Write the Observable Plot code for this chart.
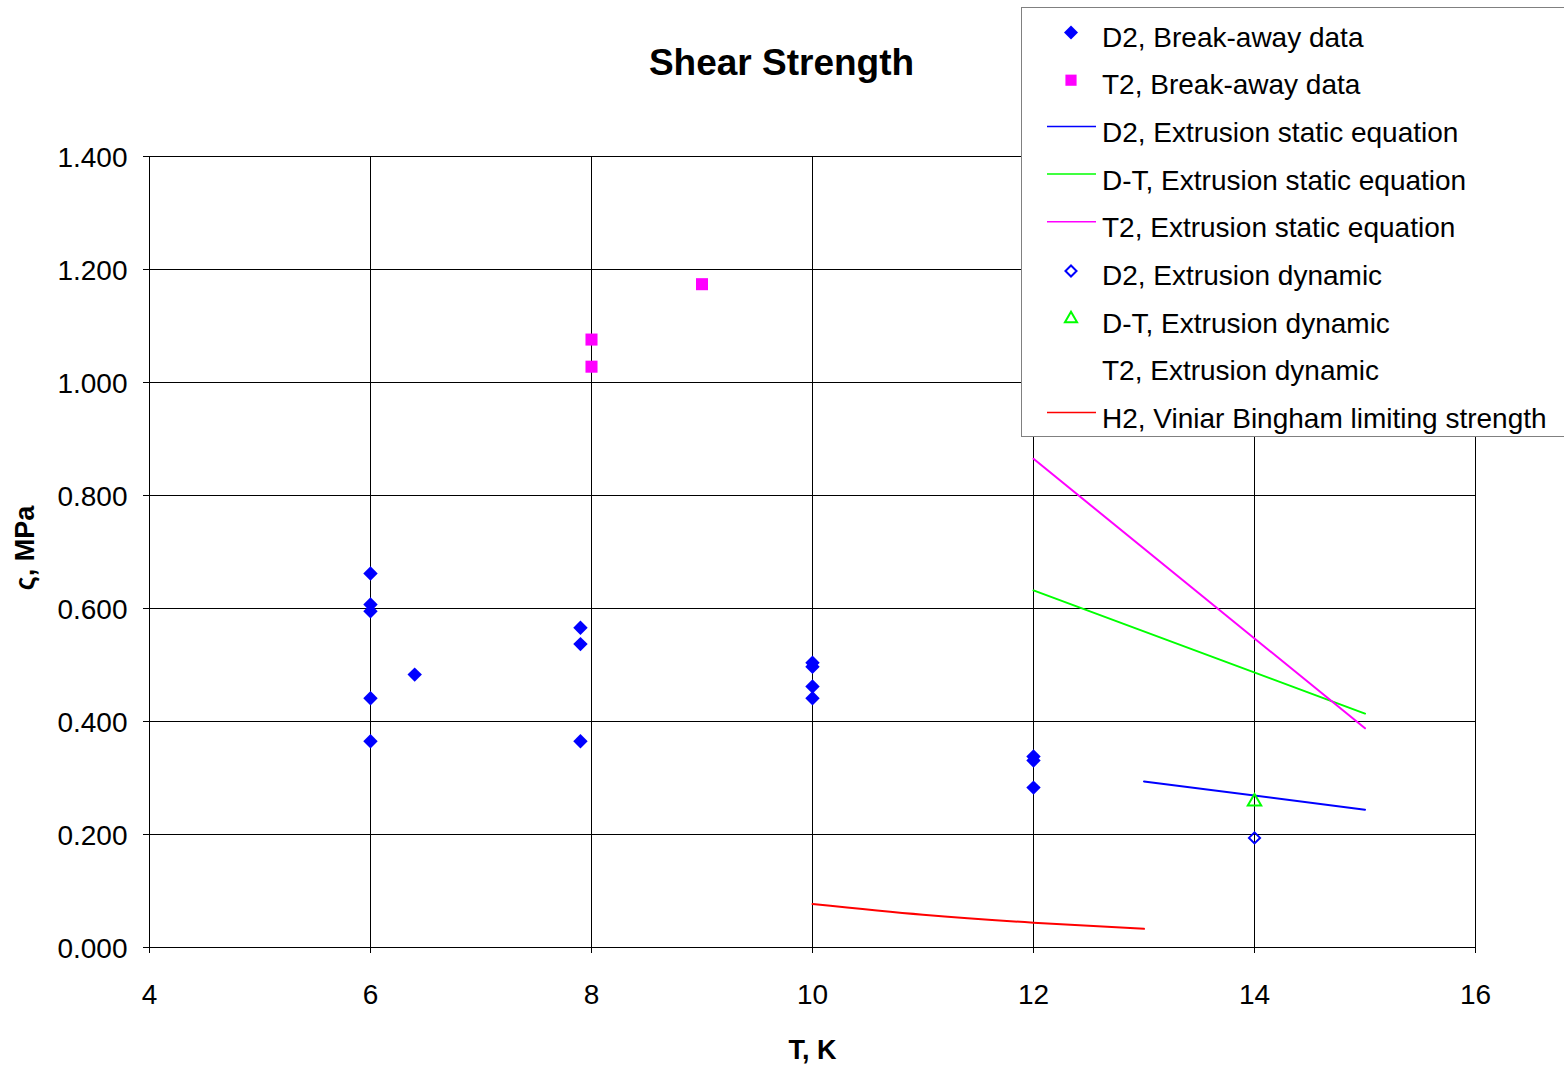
<!DOCTYPE html>
<html><head><meta charset="utf-8">
<script src="https://cdn.jsdelivr.net/npm/d3@7"></script>
<script src="https://cdn.jsdelivr.net/npm/@observablehq/plot@0.6"></script>
<style>
body{margin:0;background:#fff;overflow:hidden;font-family:"Liberation Sans",Arial,sans-serif}
#wrap{position:relative;width:1564px;height:1065px;overflow:hidden}
#legend{position:absolute;left:0;top:0}
</style>
</head><body><div id="wrap"></div>
<script>
// ---- data ----
const xTicks = [4, 6, 8, 10, 12, 14, 16];
const yTicks = [0, 0.2, 0.4, 0.6, 0.8, 1.0, 1.2, 1.4];

const d2BreakT   = [6, 6, 6, 6, 6, 6.4, 7.9, 7.9, 7.9, 10, 10, 10, 10, 12, 12, 12];
const d2BreakTau = [0.662, 0.607, 0.595, 0.441, 0.365, 0.483, 0.566, 0.537, 0.365, 0.504, 0.497, 0.462, 0.441, 0.338, 0.331, 0.283];

const t2BreakT   = [8, 8, 9];
const t2BreakTau = [1.076, 1.028, 1.174];

const d2StaticT   = [13, 15];
const d2StaticTau = [0.294, 0.244];

const dtStaticT   = [12, 15];
const dtStaticTau = [0.632, 0.414];

const t2StaticT   = [12, 15];
const t2StaticTau = [0.865, 0.388];

const d2DynT   = [14];
const d2DynTau = [0.194];

const dtDynT   = [14];
const dtDynTau = [0.258];

const t2DynT   = [];
const t2DynTau = [];

const h2BinghamT   = [10, 11, 12, 13];
const h2BinghamTau = [0.077, 0.058, 0.044, 0.033];

const seriesNames = [
  "D2, Break-away data",
  "T2, Break-away data",
  "D2, Extrusion static equation",
  "D-T, Extrusion static equation",
  "T2, Extrusion static equation",
  "D2, Extrusion dynamic",
  "D-T, Extrusion dynamic",
  "T2, Extrusion dynamic",
  "H2, Viniar Bingham limiting strength"
];

const toRows = (xs, ys) => xs.map((x, i) => ({x, y: ys[i]}));

const FONT = "Liberation Sans, Arial, sans-serif";

const chart = Plot.plot({
  width: 1564,
  height: 1065,
  marginLeft: 149,
  marginRight: 89,
  marginTop: 156,
  marginBottom: 118,
  style: {fontFamily: FONT, color: "#000", background: "#fff"},
  x: {domain: [4, 16]},
  y: {domain: [0, 1.4]},
  marks: [
    Plot.gridX(xTicks, {stroke: "#000", strokeOpacity: 1, strokeWidth: 1}),
    Plot.gridY(yTicks, {stroke: "#000", strokeOpacity: 1, strokeWidth: 1}),
    Plot.axisY(yTicks, {tickFormat: d3.format(".3f"), tickSize: 6, tickPadding: 16, fontSize: 28, label: null, text: null}),
    Plot.axisY(yTicks, {tickFormat: d3.format(".3f"), tickSize: 0, tickPadding: 22, fontSize: 28, label: null, dy: 2}),
    Plot.axisX(xTicks, {tickFormat: d3.format("d"), tickSize: 6, tickPadding: 31, fontSize: 28, label: null}),
    Plot.ruleX([4], {stroke: "#000"}),
    Plot.ruleY([0], {stroke: "#000"}),
    Plot.line(toRows(h2BinghamT, h2BinghamTau), {x: "x", y: "y", stroke: "#ff0000", strokeWidth: 2, curve: "natural"}),
    Plot.line(toRows(d2StaticT, d2StaticTau), {x: "x", y: "y", stroke: "#0000ff", strokeWidth: 2}),
    Plot.line(toRows(dtStaticT, dtStaticTau), {x: "x", y: "y", stroke: "#00ff00", strokeWidth: 2}),
    Plot.line(toRows(t2StaticT, t2StaticTau), {x: "x", y: "y", stroke: "#ff00ff", strokeWidth: 2}),
    Plot.dot(toRows(d2BreakT, d2BreakTau), {x: "x", y: "y", symbol: "diamond2", r: 6.5, fill: "#0000ff", stroke: null}),
    Plot.dot(toRows(t2BreakT, t2BreakTau), {x: "x", y: "y", symbol: "square", r: 6.8, fill: "#ff00ff", stroke: null}),
    Plot.dot(toRows(d2DynT, d2DynTau), {x: "x", y: "y", symbol: "diamond2", r: 5, fill: "none", stroke: "#0000ff", strokeWidth: 2}),
    Plot.dot(toRows(dtDynT, dtDynTau), {x: "x", y: "y", symbol: "triangle", r: 5, fill: "none", stroke: "#00ff00", strokeWidth: 2}),
    Plot.dot(toRows(t2DynT, t2DynTau), {x: "x", y: "y", symbol: "circle", r: 5, fill: "none", stroke: "none"}),
    Plot.text(["Shear Strength"], {frameAnchor: "top", dy: -93, dx: -31, text: d => d, fontSize: 37, fontWeight: "bold", lineAnchor: "middle"}),
    Plot.text(["T, K"], {frameAnchor: "bottom", dy: 103, text: d => d, fontSize: 27, fontWeight: "bold", lineAnchor: "middle"}),
    Plot.text(["ς, MPa"], {frameAnchor: "left", dx: -124, dy: -4, text: d => d, fontSize: 27, fontWeight: "bold", rotate: -90, textAnchor: "middle", lineAnchor: "middle"})
  ]
});
document.getElementById("wrap").appendChild(chart);

// ---- legend ----
const legendItems = [
  {name: seriesNames[0], kind: "symbol", symbol: d3.symbolDiamond2, size: Math.PI * 6.3 * 6.3, fill: "#0000ff", stroke: "none"},
  {name: seriesNames[1], kind: "symbol", symbol: d3.symbolSquare, size: Math.PI * 6.3 * 6.3, fill: "#ff00ff", stroke: "none"},
  {name: seriesNames[2], kind: "line", stroke: "#0000ff"},
  {name: seriesNames[3], kind: "line", stroke: "#00ff00"},
  {name: seriesNames[4], kind: "line", stroke: "#ff00ff"},
  {name: seriesNames[5], kind: "symbol", symbol: d3.symbolDiamond2, size: Math.PI * 5 * 5, fill: "none", stroke: "#0000ff"},
  {name: seriesNames[6], kind: "symbol", symbol: d3.symbolTriangle, size: Math.PI * 4.5 * 4.5, fill: "none", stroke: "#00ff00"},
  {name: seriesNames[7], kind: "none"},
  {name: seriesNames[8], kind: "line", stroke: "#ff0000"}
];
const svg = d3.select("#wrap").append("svg")
  .attr("id", "legend").attr("width", 1564).attr("height", 1065)
  .style("pointer-events", "none");
svg.append("rect").attr("x", 1021.5).attr("y", 7.5).attr("width", 600).attr("height", 429)
  .attr("fill", "#fff").attr("stroke", "#808080").attr("stroke-width", 1);
legendItems.forEach((it, i) => {
  const base = 46.5 + 47.7 * i;
  const g = svg.append("g");
  if (it.kind === "symbol") {
    g.append("path").attr("d", d3.symbol(it.symbol, it.size)())
      .attr("transform", `translate(1071,${base - 14})`)
      .attr("fill", it.fill).attr("stroke", it.stroke).attr("stroke-width", 2);
  } else if (it.kind === "line") {
    g.append("line").attr("x1", 1047).attr("x2", 1096).attr("y1", base - 15.5).attr("y2", base - 15.5)
      .attr("stroke", it.stroke).attr("stroke-width", 1.5);
  }
  g.append("text").attr("x", 1102).attr("y", base).text(it.name)
    .attr("font-family", FONT).attr("font-size", 28).attr("fill", "#000");
});
</script>
</body></html>
